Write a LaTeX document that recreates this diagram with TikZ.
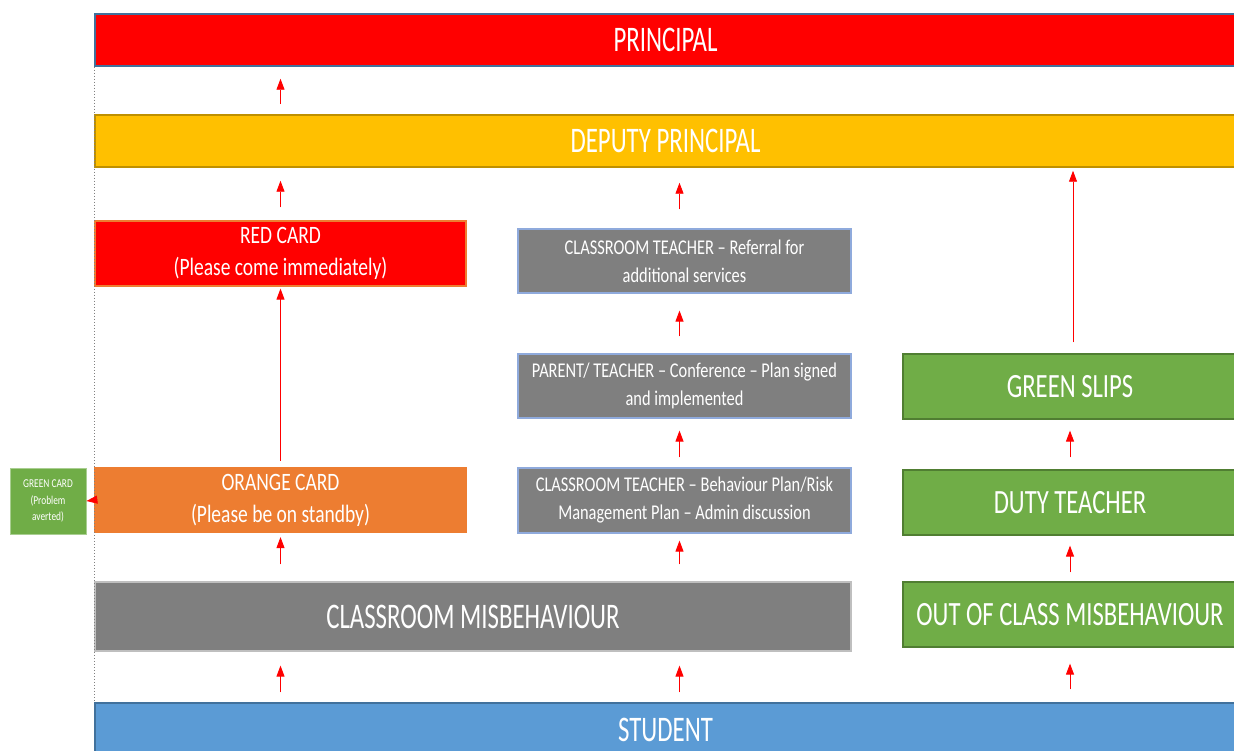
\documentclass[tikz,border=0pt]{standalone}
\usepackage{fontspec}
\setmainfont{Carlito}[FakeStretch=0.78]
\newfontfamily\barfont{Carlito}[FakeStretch=0.69]
\newfontfamily\slipfont{Carlito}[FakeStretch=0.725]
\usetikzlibrary{arrows.meta}

\definecolor{prinred}{HTML}{FF0000}
\definecolor{bluedge}{HTML}{41719C}
\definecolor{deputy}{HTML}{FFC000}
\definecolor{deputyedge}{HTML}{BF9000}
\definecolor{orangecard}{HTML}{ED7D31}
\definecolor{planfill}{HTML}{7F7F7F}
\definecolor{planedge}{HTML}{8FAADC}
\definecolor{slipfill}{HTML}{70AD47}
\definecolor{slipedge}{HTML}{507E32}
\definecolor{studentfill}{HTML}{5B9BD5}

\begin{document}
\begin{tikzpicture}[x=1pt,y=-1pt,
  bar/.style={draw=bluedge,line width=1.5pt,minimum width=1141pt,minimum height=52pt,inner sep=0pt,text=white,font=\barfont\fontsize{36}{40}\selectfont},
  card/.style={draw=orangecard,line width=1.2pt,minimum width=371pt,minimum height=65pt,inner sep=0pt,text=white,align=center,font=\fontsize{25}{32}\selectfont},
  plan/.style={draw=planedge,line width=1.2pt,fill=planfill,minimum width=333pt,minimum height=64pt,inner sep=0pt,text=white,align=center,font=\fontsize{21}{28}\selectfont},
  slip/.style={draw=slipedge,line width=1.2pt,fill=slipfill,minimum width=334pt,minimum height=65pt,inner sep=0pt,text=white,font=\slipfont\fontsize{34}{40}\selectfont},
  up/.style={draw=red,line width=0.9pt,-{Triangle[length=11pt,width=8pt]}}]
\useasboundingbox (0,0) rectangle (1234,751);

\node[bar,fill=prinred] (principal) at (665.5,40) {PRINCIPAL};
\node[bar,draw=deputyedge,fill=deputy] (deputy) at (665.5,141) {DEPUTY PRINCIPAL};
\node[card,fill=prinred] (red) at (280.5,253.5) {RED CARD\\(Please come immediately)};
\node[card,fill=orangecard] (orange) at (280.5,500) {ORANGE CARD\\(Please be on standby)};
\node[draw=slipfill!60,line width=0.8pt,fill=slipfill,minimum width=76pt,minimum height=66pt,inner sep=0pt,text=white,align=center,font=\fontsize{12}{16.5}\selectfont] (greencard) at (48,501) {GREEN CARD\\(Problem\\averted)};
\node[plan] (referral) at (684.5,261) {CLASSROOM TEACHER -- Referral for\\additional services};
\node[plan] (parent) at (684.5,386) {PARENT/ TEACHER -- Conference -- Plan signed\\and implemented};
\node[plan,minimum height=65pt] (behaviour) at (684.5,500.5) {CLASSROOM TEACHER -- Behaviour Plan/Risk\\Management Plan -- Admin discussion};
\node[draw=gray!50,line width=1.2pt,fill=planfill,minimum width=756pt,minimum height=69pt,text=white,font=\barfont\fontsize{36}{40}\selectfont] (classroom) at (473,616.5) {CLASSROOM MISBEHAVIOUR};
\node[slip] (slips) at (1070,386.5) {GREEN SLIPS};
\node[slip] (duty) at (1070,502.5) {DUTY TEACHER};
\node[slip] (outclass) at (1070,614.5) {OUT OF CLASS MISBEHAVIOUR};
\node[bar,fill=studentfill,minimum height=54pt] (student) at (665.5,730) {STUDENT};

\draw[gray,dotted,line width=1pt] (principal.south west) -- (student.north west);

\draw[up,shorten <=10pt,shorten >=12pt] (deputy.north -| red.north) -- (principal.south -| red.north);
\draw[up,shorten <=13pt,shorten >=13pt] (red.north) -- (deputy.south -| red.north);
\draw[up,shorten <=19pt,shorten >=15pt] ([xshift=-5pt]referral.north) -- ([xshift=-5pt]deputy.south -| referral.north);
\draw[up,shorten <=11pt,shorten >=3pt] ([xshift=3pt]slips.north) -- ([xshift=3pt]deputy.south -| slips.north);
\draw[up,shorten <=6pt,shorten >=2pt] (orange.north) -- (red.south);
\draw[up,shorten <=17pt,shorten >=17pt] ([xshift=-5pt]parent.north) -- ([xshift=-5pt]referral.south);
\draw[up,shorten <=10pt,shorten >=12pt] ([xshift=-5pt]behaviour.north) -- ([xshift=-5pt]parent.south);
\draw[up] (orange.west) -- (greencard.east);
\draw[up,shorten <=17pt,shorten >=4pt] (classroom.north -| orange.north) -- (orange.south);
\draw[up,shorten <=17pt,shorten >=7pt] ([xshift=-5pt]classroom.north -| behaviour.north) -- ([xshift=-5pt]behaviour.south);
\draw[up,shorten <=10pt,shorten >=14pt] (student.north -| orange.south) -- (classroom.south -| orange.south);
\draw[up,shorten <=10pt,shorten >=14pt] ([xshift=-5pt]student.north -| behaviour.south) -- ([xshift=-5pt]classroom.south -| behaviour.south);
\draw[up,shorten <=13pt,shorten >=16pt] (student.north -| outclass.south) -- (outclass.south);
\draw[up,shorten <=9pt,shorten >=10pt] (outclass.north) -- (duty.south);
\draw[up,shorten <=12pt,shorten >=11pt] (duty.north) -- (slips.south);
\end{tikzpicture}
\end{document}
